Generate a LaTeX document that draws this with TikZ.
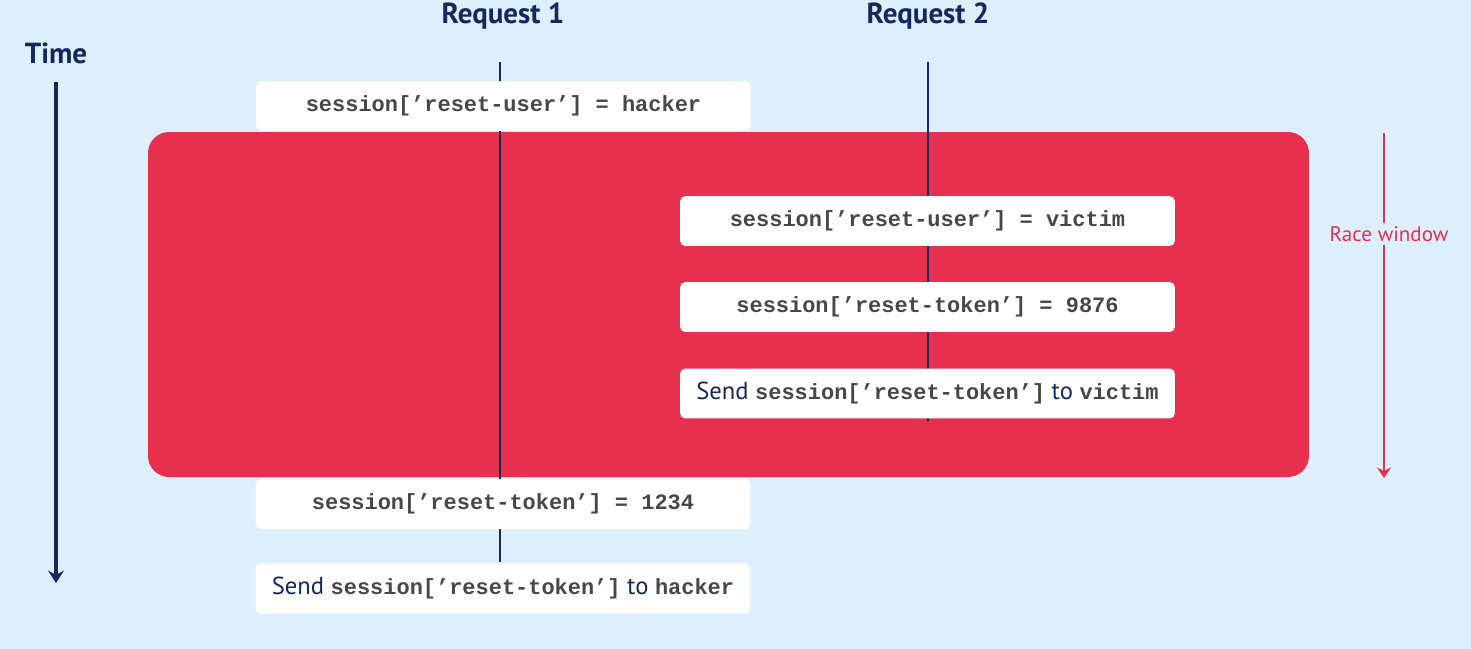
\documentclass[tikz,border=0pt]{standalone}
\usepackage{fontspec}
\setmainfont{PT Sans}
\setmonofont{Liberation Mono}
\usetikzlibrary{arrows.meta}

\definecolor{bgblue}{HTML}{DDEEFC}
\definecolor{navy}{HTML}{15275E}
\definecolor{racered}{HTML}{E6304E}
\definecolor{codegrey}{HTML}{474747}

\newcommand{\code}[1]{{\fontsize{12.5}{14}\selectfont\ttfamily\bfseries\color{codegrey}#1}}

\tikzset{
  stepbox/.style={draw=none, fill=white, rounded corners=3pt,
    minimum width=9.9cm, minimum height=1.0cm, inner sep=0pt,
    font=\fontsize{14}{16}\selectfont, text=navy},
  reqlabel/.style={font=\fontsize{16.5}{18}\selectfont\bfseries, text=navy},
  timeline/.style={draw=navy, line width=1.1pt},
}

\begin{document}
\begin{tikzpicture}[x=0.02cm, y=-0.02cm]
  % Background
  \fill[bgblue] (0,0) rectangle (1471,649);
  \useasboundingbox (0,0) rectangle (1471,649);

  % Race window box
  \fill[racered, rounded corners=12pt] (148,132) rectangle (1309,477);

  % Labels
  \node[reqlabel] (time) at (56,53) {Time};
  \node[reqlabel] (req1) at (503,16) {Request 1};
  \node[reqlabel] (req2) at (928,16) {Request 2};

  % Time axis
  \coordinate (tstart) at (56,82);
  \coordinate (tend) at (56,583);
  \draw[draw=navy, line width=2pt, -{Stealth[length=7pt,width=9pt]}] (tstart) -- (tend);

  % Request timelines
  \coordinate (r1top) at (500,62);
  \coordinate (r1bot) at (500,562);
  \coordinate (r2top) at (928,62);
  \coordinate (r2bot) at (928,421);
  \draw[timeline] (r1top) -- (r1bot);
  \draw[timeline] (r2top) -- (r2bot);

  % Request 1 steps
  \node[stepbox] (u1) at (503.5,106) {\code{session[’reset-user’] = hacker}};
  \node[stepbox] (t1) at (503,504) {\code{session[’reset-token’] = 1234}};
  \node[stepbox] (s1) at (503,588.5) {Send \code{session[’reset-token’]} to \code{hacker}};

  % Request 2 steps
  \node[stepbox] (u2) at (927.5,221) {\code{session[’reset-user’] = victim}};
  \node[stepbox] (t2) at (927.5,307) {\code{session[’reset-token’] = 9876}};
  \node[stepbox] (s2) at (927.5,393.5) {Send \code{session[’reset-token’]} to \code{victim}};

  % Race window arrow
  \coordinate (wtop) at (1384,133);
  \coordinate (wbot) at (1384,478);
  \draw[draw=racered, line width=1.6pt, -{Stealth[length=6pt,width=8pt]}] (wtop) -- (wbot);
  \node[fill=bgblue, text=racered, inner sep=2pt, font=\fontsize{12}{14}\selectfont] (race) at (1389,234) {Race window};
\end{tikzpicture}
\end{document}
